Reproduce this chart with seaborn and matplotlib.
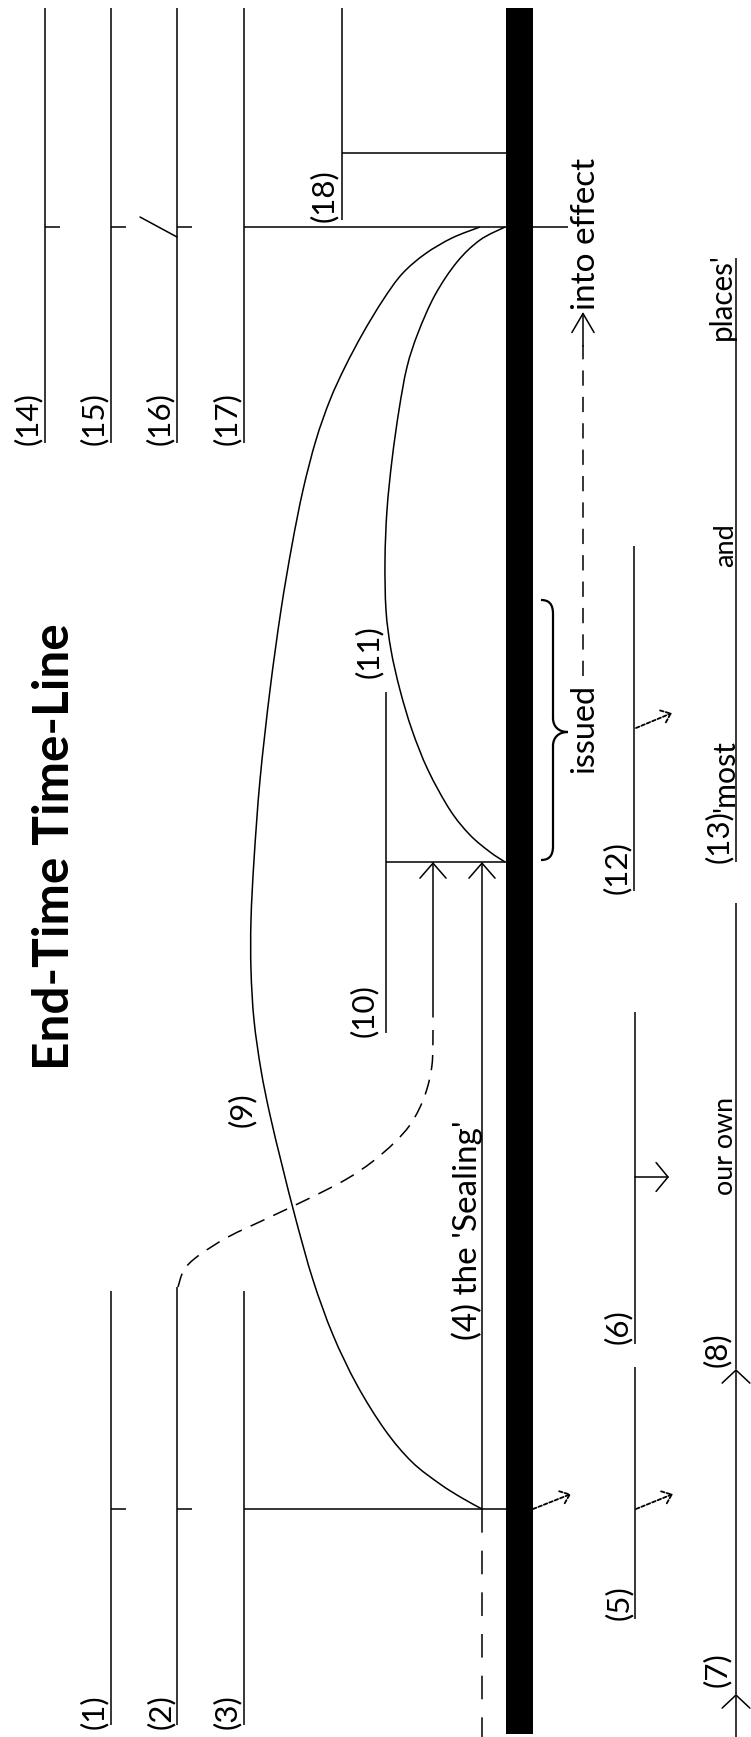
import numpy as np
import matplotlib
matplotlib.use("Agg")
import matplotlib.pyplot as plt
from matplotlib.path import Path
from matplotlib.patches import PathPatch, Rectangle
import seaborn as sns

# ---------------- data (diagram coordinates, in picture pixels) ----------------
W, H = 751, 1737
title = "End-Time Time-Line"

bar_x = [506, 533]
bar_y = [8, 1734]

upper_x = [45, 111, 177, 244]          # lines (14)..(17)
upper_span = [8, 443]
upper_tick_y = 227
line18_x = 342
line18_span = [8, 220]
line18_join_y = 153

lower_x = [111, 177, 244]              # lines (1)..(3)
lower_top = [1291, 1287, 1291]
lower_bottom = 1725
lower_tick_y = 1509

num_labels = ["(14)", "(15)", "(16)", "(17)", "(18)", "(1)", "(2)", "(3)", "(5)", "(6)",
              "(7)", "(8)", "(9)", "(10)", "(11)", "(12)", "(13)"]
num_label_x = [42, 108, 174, 241, 338, 108, 175, 241, 633, 632, 731, 731, 256, 378, 383, 631, 733]
num_label_y = [445, 445, 445, 445, 222, 1729, 1729, 1729, 1620, 1344, 1687, 1367, 1127, 1037, 678, 894, 863]

phrases = ["(4) the 'Sealing'", "into effect", "issued", "our own", "'most", "and", "places'"]
phrase_x = [477, 595, 593, 733, 734, 733, 731]
phrase_y = [1340, 310, 773, 1195, 812, 567, 340]
phrase_len = [220, 153, 89, 98, 72, 44, 87]

# curve (9): outer arc
arc9_x = [480, 452, 425, 402, 383, 363, 345, 330, 316, 303, 292, 281, 270, 260, 254, 251,
          251, 254, 261, 270, 282, 296, 313, 333, 357, 385, 412, 440, 462, 482]
arc9_y = [227, 238, 254, 274, 300, 333, 367, 400, 440, 490, 545, 610, 690, 780, 860, 920,
          970, 1020, 1070, 1115, 1165, 1220, 1280, 1335, 1385, 1430, 1462, 1484, 1498, 1509]
# curve (11): inner arc
arc11_x = [505, 480, 457, 435, 418, 407, 399, 392, 387, 385, 386, 391, 400, 412, 428, 450, 470, 490, 505]
arc11_y = [227, 240, 262, 295, 333, 367, 410, 460, 510, 560, 610, 650, 690, 730, 770, 810, 835, 852, 862]
# dashed link from (2) to the arrow at x=433
link_x = [433, 432, 425, 412, 395, 372, 345, 310, 268, 228, 198, 184, 178]
link_y = [1030, 1065, 1095, 1122, 1142, 1162, 1180, 1198, 1218, 1237, 1256, 1270, 1287]

# ---------------- figure ----------------
sns.set_theme(style="white")
plt.rcParams["font.family"] = ["Lato", "DejaVu Sans"]
plt.rcParams["lines.scale_dashes"] = False

fig = plt.figure(figsize=(W / 100, H / 100), dpi=100)
fig.patch.set_facecolor("white")
ax = fig.add_axes([0, 0, 1, 1])
ax.set_xlim(0, W)
ax.set_ylim(H, 0)
ax.axis("off")
renderer = fig.canvas.get_renderer()

LW = 1.1
K = "black"


def smooth_path(xs, ys):
    P = np.column_stack([xs, ys]).astype(float)
    n = len(P)
    verts = [P[0]]
    codes = [Path.MOVETO]
    for i in range(n - 1):
        p0 = P[i - 1] if i > 0 else P[i]
        p1, p2 = P[i], P[i + 1]
        p3 = P[i + 2] if i + 2 < n else P[i + 1]
        verts += [p1 + (p2 - p0) / 6, p2 - (p3 - p1) / 6, p2]
        codes += [Path.CURVE4] * 3
    return Path(verts, codes)


def arrow(tail, tip, hl, hw, ls="-", lw=LW):
    ax.annotate("", xy=tip, xytext=tail,
                arrowprops=dict(arrowstyle=f"->,head_length={hl},head_width={hw}",
                                lw=lw, color=K, shrinkA=0, shrinkB=0, linestyle=ls,
                                mutation_scale=10))


def fit_text(x, y, s, length, va, weight="normal", size=None):
    t = ax.text(x, y, s, rotation=90, rotation_mode="anchor", ha="left", va=va,
                fontsize=20 if size is None else size, fontweight=weight, color=K)
    if size is None:
        bb = t.get_window_extent(renderer=renderer)
        t.set_fontsize(20 * length / bb.height)
    return t


# main thick time-line
ax.add_patch(Rectangle((bar_x[0], bar_y[0]), bar_x[1] - bar_x[0], bar_y[1] - bar_y[0],
                       facecolor=K, edgecolor="none"))

# upper vertical lines with ticks
ax.vlines(upper_x, upper_span[0], upper_span[1], colors=K, lw=LW)
ax.hlines([upper_tick_y] * 3, upper_x[:3], [x + 15 for x in upper_x[:3]], colors=K, lw=LW)
ax.plot([140, 177], [217, 237], color=K, lw=LW)
ax.hlines(upper_tick_y, upper_x[3], 568, colors=K, lw=LW)
ax.vlines(line18_x, line18_span[0], line18_span[1], colors=K, lw=LW)
ax.hlines(line18_join_y, line18_x, bar_x[0], colors=K, lw=LW)

# lower vertical lines with ticks
ax.vlines(lower_x, lower_top, [lower_bottom] * 3, colors=K, lw=LW)
ax.hlines([lower_tick_y] * 2, lower_x[:2], [x + 15 for x in lower_x[:2]], colors=K, lw=LW)
ax.hlines(lower_tick_y, lower_x[2], bar_x[0], colors=K, lw=LW)

# arcs
ax.add_patch(PathPatch(smooth_path(arc9_x, arc9_y), fill=False, ec=K, lw=LW))
ax.add_patch(PathPatch(smooth_path(arc11_x, arc11_y), fill=False, ec=K, lw=LW))
ax.add_patch(PathPatch(smooth_path(link_x, link_y), fill=False, ec=K, lw=LW,
                       linestyle=(0, (11, 7))))

# (10)/(11) bracket and sealing arrows
ax.vlines(386, 692, 1033, colors=K, lw=LW)
ax.hlines(862, 386, bar_x[0], colors=K, lw=LW)
arrow((433, 1017), (433, 862), 1.08, 0.94)
arrow((482, 1509), (482, 862), 1.08, 0.94)
ax.plot([482, 482], [1509, 1737], color=K, lw=LW, linestyle=(0, (17, 13)))

# dotted short arrows
DOT = (0, (2.6, 1.6))
arrow((533, 1509), (571, 1494), 0.62, 0.5, ls=DOT, lw=1.3)
arrow((636, 1509), (673, 1494), 0.62, 0.5, ls=DOT, lw=1.3)
arrow((636, 728), (672, 713), 0.62, 0.5, ls=DOT, lw=1.3)

# (5), (6), (12) lines
ax.vlines([635, 635, 634], [1367, 1012, 546], [1619, 1344, 891], colors=K, lw=LW)
arrow((635, 1177), (669, 1177), 0.86, 1.04)

# right column line (7)/(8)/(13)
ax.vlines(736, 258, 862, colors=K, lw=LW)
ax.vlines(736, 903, 1369, colors=K, lw=LW)
arrow((736, 1737), (736, 1694), 0.94, 1.0)
arrow((736, 1694), (736, 1369), 0.94, 1.0)

# issued -> into effect
ax.plot([583, 583], [676, 345], color=K, lw=LW, linestyle=(0, (11, 8)))
arrow((583, 346), (583, 312), 1.37, 0.8)

# brace
bv = [(541, 600), (549, 600), (553, 604), (553, 614), (553, 718),
      (553, 726), (558, 732), (568, 732),
      (558, 732), (553, 738), (553, 746), (553, 846),
      (553, 856), (549, 860), (541, 860)]
bc = [Path.MOVETO, Path.CURVE4, Path.CURVE4, Path.CURVE4, Path.LINETO,
      Path.CURVE4, Path.CURVE4, Path.CURVE4,
      Path.CURVE4, Path.CURVE4, Path.CURVE4, Path.LINETO,
      Path.CURVE4, Path.CURVE4, Path.CURVE4]
ax.add_patch(PathPatch(Path(bv, bc), fill=False, ec=K, lw=1.6))

# ---------------- texts ----------------
fit_text(69, 1070, title, 447, "baseline", weight="bold")

lab0 = fit_text(num_label_x[0], num_label_y[0], num_labels[0], 53, "bottom")
lab_size = lab0.get_fontsize()
for s, x, y in zip(num_labels[1:], num_label_x[1:], num_label_y[1:]):
    fit_text(x, y, s, None, "bottom", size=lab_size)

for s, x, y, L in zip(phrases, phrase_x, phrase_y, phrase_len):
    fit_text(x, y, s, L, "baseline")

fig.savefig("out.png", dpi=100, facecolor="white")
